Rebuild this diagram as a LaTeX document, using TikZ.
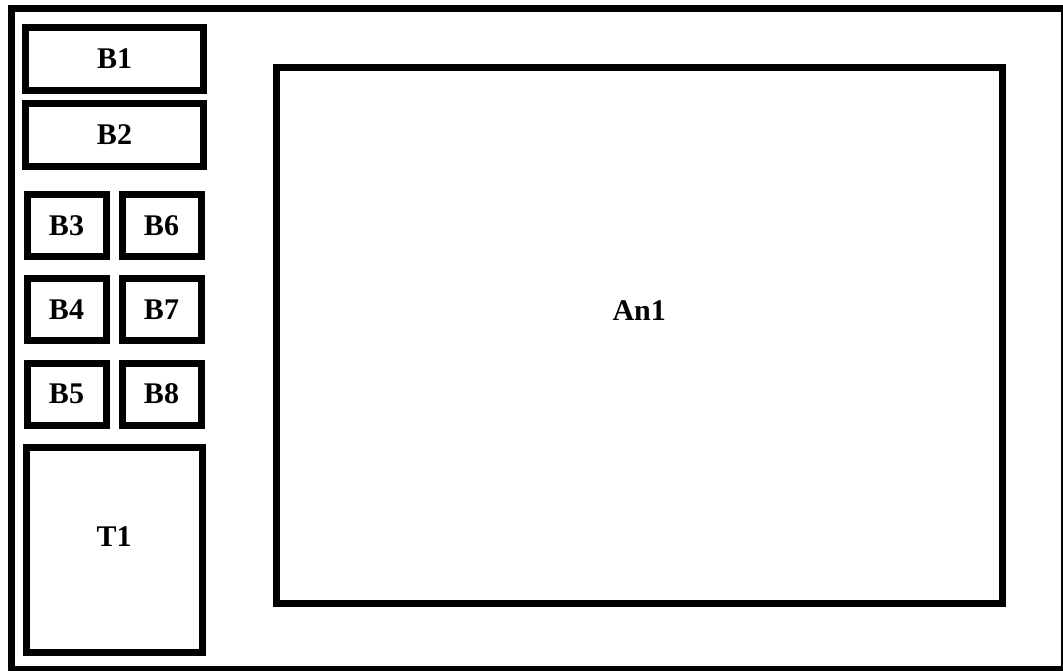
\documentclass[tikz,border=0pt]{standalone}
\usepackage{fontspec}
\setmainfont{Liberation Serif}
\usetikzlibrary{positioning}
\tikzset{
  panel/.style={rectangle, draw=black, line width=7pt, inner sep=0pt,
    font=\fontsize{30}{32}\selectfont\bfseries},
  widebox/.style={panel, minimum width=178pt, minimum height=63pt},
  smallbox/.style={panel, minimum width=79pt, minimum height=62pt},
  tallbox/.style={panel, minimum width=176pt, minimum height=205pt},
  viewbox/.style={panel, minimum width=726pt, minimum height=536pt},
  boxlabel/.style={font=\fontsize{30}{32}\selectfont\bfseries, inner sep=0pt}
}

\begin{document}
\begin{tikzpicture}[x=1pt, y=-1pt]
  \clip (0,0) rectangle (1063,670);
  % outer window frame
  \node[panel, minimum width=1053pt, minimum height=661.5pt] (frame) at (538,338.75) {};
  % left column of buttons
  \node[widebox]  (b1) at (114.7,58.5)  {B1};
  \node[widebox]  (b2) at (114.5,135)   {B2};
  \node[smallbox] (b3) at (66.5,225.8)  {B3};
  \node[smallbox] (b4) at (66.5,309.8)  {B4};
  \node[smallbox] (b5) at (66.5,394)    {B5};
  \node[smallbox] (b6) at (161.5,225.8) {B6};
  \node[smallbox] (b7) at (161.5,309.8) {B7};
  \node[smallbox] (b8) at (161.5,394)   {B8};
  \node[tallbox, label={[boxlabel, yshift=13pt]center:T1}] (t1) at (114.2,549.8) {};
  % main area
  \node[viewbox, label={[boxlabel, yshift=25pt]center:An1}] (an1) at (639.2,335.8) {};
\end{tikzpicture}
\end{document}
